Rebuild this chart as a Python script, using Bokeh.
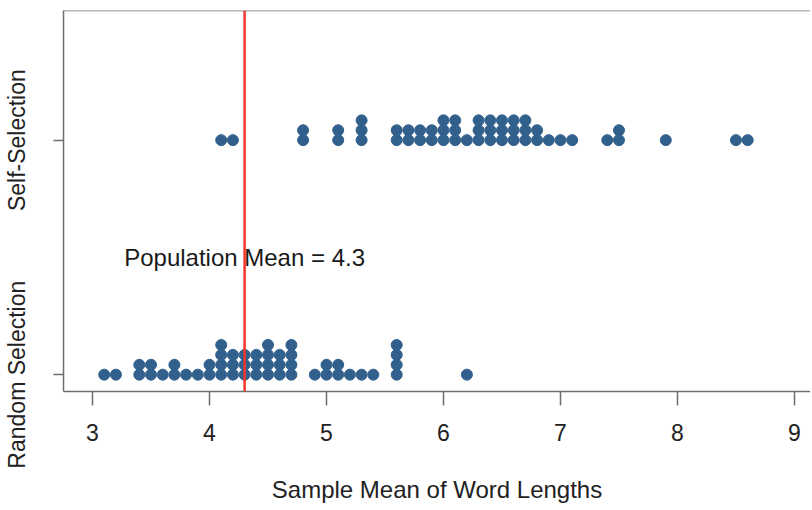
from bokeh.plotting import figure
from bokeh.models import Range1d, FixedTicker, Span, Label
from bokeh.embed import file_html
from bokeh.resources import INLINE

# ---- data ----
self_values = [4.1, 4.2, 4.8, 5.1, 5.3, 5.6, 5.7, 5.8, 5.9, 6.0, 6.1, 6.2, 6.3,
               6.4, 6.5, 6.6, 6.7, 6.8, 6.9, 7.0, 7.1, 7.4, 7.5, 7.9, 8.5, 8.6]
self_counts = [1, 1, 2, 2, 3, 2, 2, 2, 2, 3, 3, 1, 3,
               3, 3, 3, 3, 2, 1, 1, 1, 1, 2, 1, 1, 1]
random_values = [3.1, 3.2, 3.4, 3.5, 3.6, 3.7, 3.8, 3.9, 4.0, 4.1, 4.2, 4.3,
                 4.4, 4.5, 4.6, 4.7, 4.9, 5.0, 5.1, 5.2, 5.3, 5.4, 5.6, 6.2]
random_counts = [1, 1, 2, 2, 1, 2, 1, 1, 2, 4, 3, 3,
                 3, 4, 3, 4, 1, 2, 2, 1, 1, 1, 4, 1]
group_labels = {0: "Random Selection", 1: "Self-Selection"}
population_mean = 4.3
x_ticks = [3, 4, 5, 6, 7, 8, 9]

# ---- layout constants ----
PX_PER_UNIT_Y = 237.0
STEP = 10.0 / PX_PER_UNIT_Y
DOT = "#31608c"
BOX = "#6e6e6e"
FONT = "Liberation Sans"


def stack(values, counts, base):
    xs, ys = [], []
    for v, c in zip(values, counts):
        for k in range(c):
            xs.append(v)
            ys.append(base + k * STEP)
    return xs, ys


p = figure(width=810, height=505, output_backend="svg", toolbar_location=None,
           x_range=Range1d(2.752, 9.137),
           y_range=Range1d(-17 / PX_PER_UNIT_Y, 1 + 131 / PX_PER_UNIT_Y),
           min_border_left=63, min_border_right=0, min_border_top=10,
           min_border_bottom=110)
p.outline_line_color = None
p.xgrid.visible = False
p.ygrid.visible = False
p.background_fill_color = "white"
p.border_fill_color = "white"

# dots
rx, ry = stack(random_values, random_counts, 0)
sx, sy = stack(self_values, self_counts, 1)
p.scatter(x=rx + sx, y=ry + sy, size=11, color=DOT, line_color=DOT)

# population mean annotation
p.add_layout(Label(x=population_mean, y=0.5, text="Population Mean = 4.3",
                   text_align="center", text_baseline="middle",
                   text_font=FONT, text_font_size="24px", text_color="#1a1a1a"))
p.add_layout(Span(location=population_mean, dimension="height",
                  line_color="#f2352a", line_width=2.5))

# top border
p.add_layout(Span(location=p.y_range.end, dimension="width",
                  line_color=BOX, line_width=1.5))

# x axis
xa = p.xaxis[0]
xa.ticker = FixedTicker(ticks=x_ticks)
xa.axis_line_color = BOX
xa.axis_line_width = 1.5
xa.major_tick_line_color = BOX
xa.major_tick_line_width = 1.5
xa.major_tick_out = 14
xa.major_tick_in = 0
xa.minor_tick_line_color = None
xa.major_label_standoff = 18
xa.major_label_text_font = FONT
xa.major_label_text_font_size = "23px"
xa.major_label_text_color = "#222222"
xa.axis_label = "Sample Mean of Word Lengths"
xa.axis_label_text_font = FONT
xa.axis_label_text_font_size = "24px"
xa.axis_label_text_font_style = "normal"
xa.axis_label_text_color = "#222222"
xa.axis_label_standoff = 32

# y axis
ya = p.yaxis[0]
ya.ticker = FixedTicker(ticks=list(group_labels.keys()))
ya.major_label_overrides = group_labels
ya.major_label_orientation = "parallel"
ya.axis_line_color = BOX
ya.axis_line_width = 1.5
ya.major_tick_line_color = BOX
ya.major_tick_line_width = 1.5
ya.major_tick_out = 10
ya.major_tick_in = 0
ya.minor_tick_line_color = None
ya.major_label_standoff = 23
ya.major_label_text_font = FONT
ya.major_label_text_font_size = "23px"
ya.major_label_text_color = "#222222"

open("out.html", "w").write(file_html(p, INLINE))
